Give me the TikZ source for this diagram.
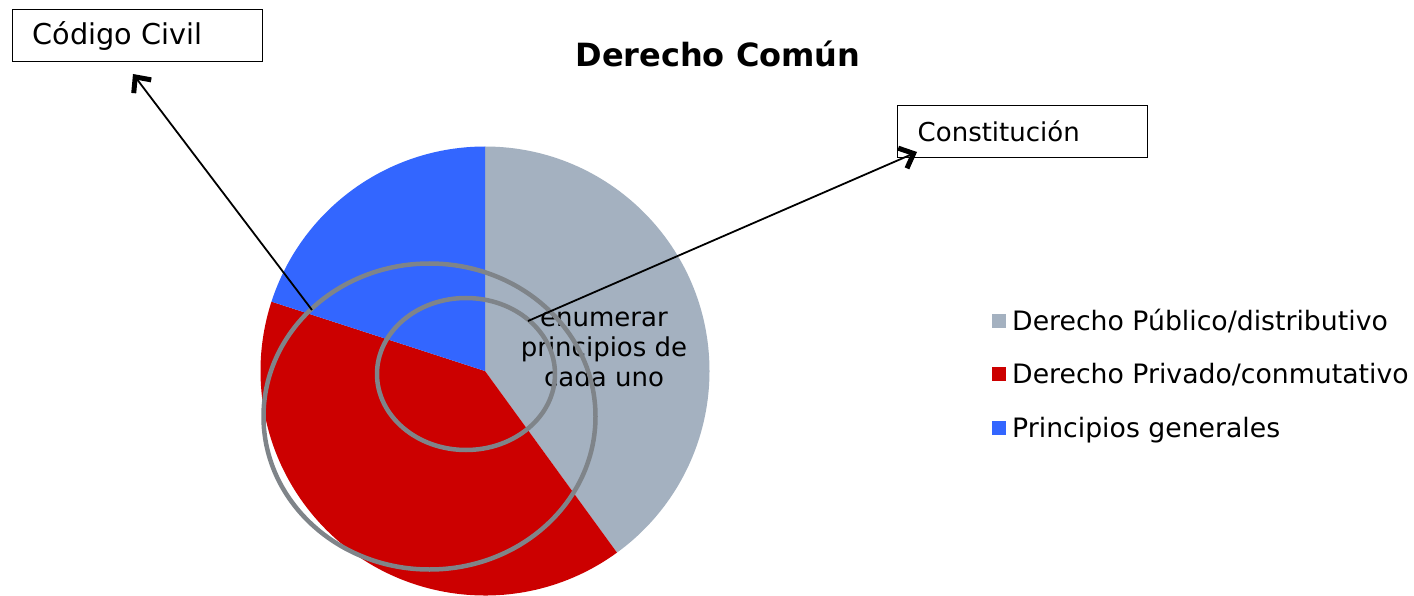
\documentclass[tikz,border=0pt]{standalone}
\usepackage{fontspec}
\setmainfont{DejaVu Sans}
\usetikzlibrary{arrows.meta}
\definecolor{pubgray}{RGB}{164,177,192}
\definecolor{privred}{RGB}{204,0,0}
\definecolor{prinblue}{RGB}{51,102,255}
\definecolor{ringgray}{RGB}{127,132,137}
\tikzset{
  labelbox/.style={draw=black, line width=1.4pt, rectangle, minimum width=250pt, minimum height=52pt,
    text width=210pt, inner xsep=20pt, align=left, anchor=north west, font=\fontsize{26}{31}\selectfont},
  ring/.style={draw=ringgray, line width=4.5pt},
  pointer/.style={draw=black, line width=1.8pt, -{Straight Barb[length=12pt,width=22pt,line width=5pt]}},
  legtext/.style={anchor=base west, inner sep=0pt, font=\fontsize{26.7}{31}\selectfont},
  legsq/.style={minimum size=14pt, inner sep=0pt}
}
\begin{document}
\begin{tikzpicture}[x=1pt,y=-1pt]
\useasboundingbox[fill=white] (0,0) rectangle (1414,596);
% pie
\coordinate (c) at (485,371);
\def\R{224.5}
\fill[pubgray] (c) -- ++(-90:\R) arc[start angle=-90, end angle=54, radius=\R] -- cycle;
\fill[privred] (c) -- ++(54:\R) arc[start angle=54, end angle=198, radius=\R] -- cycle;
\fill[prinblue] (c) -- ++(198:\R) arc[start angle=198, end angle=270, radius=\R] -- cycle;
% inner text
\node[align=center, font=\fontsize{26}{30}\selectfont, inner sep=0pt] (enum) at (604,349) {enumerar\\principios de\\cada uno};
% rings
\draw[ring] (466,374) ellipse[x radius=89, y radius=76];
\draw[ring] (429.5,416.5) ellipse[x radius=166, y radius=153];
% title
\node[anchor=base, font=\bfseries\fontsize{32}{38}\selectfont, inner sep=0pt] (title) at (718,67) {Derecho Común};
% boxes
\node[labelbox, font=\fontsize{28.7}{34}\selectfont] (cc) at (12,9) {Código Civil};
\node[labelbox] (const) at (897,105) {Constitución};
% arrows
\coordinate (ccstart) at (312,310);
\coordinate (cctip) at (133,74);
\coordinate (cnstart) at (528,321);
\coordinate (cntip) at (917,152);
\draw[pointer] (ccstart) -- (cctip);
\draw[pointer] (cnstart) -- (cntip);
% legend
\node[legsq, fill=pubgray] (sq1) at (999,321) {};
\node[legsq, fill=privred] (sq2) at (999,374) {};
\node[legsq, fill=prinblue] (sq3) at (999,428) {};
\node[legtext] (l1) at (1012,330) {Derecho Público/distributivo};
\node[legtext] (l2) at (1012,383) {Derecho Privado/conmutativo};
\node[legtext] (l3) at (1012,437) {Principios generales};
\end{tikzpicture}
\end{document}
